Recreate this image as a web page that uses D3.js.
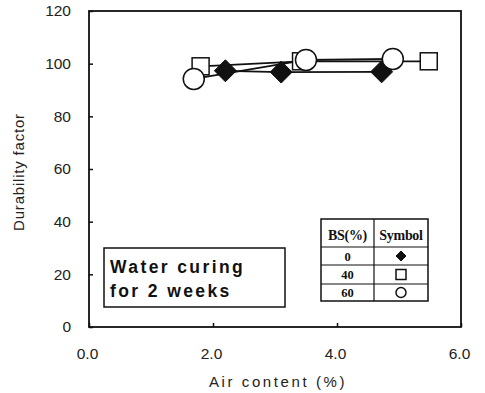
<!DOCTYPE html>
<html>
<head>
<meta charset="utf-8" />
<script src="https://d3js.org/d3.v7.min.js"></script>
<style>
  body { margin: 0; background: #fff; }
  svg { display: block; font-family: "Liberation Sans", Arial, sans-serif; }
</style>
</head>
<body>
<div id="visu"></div>
<script>
// chart size
const largeur = 485;
const hauteur = 393;
const marge = {haut: 11, droite: 24, bas: 66, gauche: 89};

// data
const niveauxBS = ["0", "40", "60"];
const air0 = [2.2, 3.1, 4.72];
const durab0 = [97.3, 96.8, 96.9];
const air40 = [1.8, 3.42, 5.48];
const durab40 = [99.0, 100.9, 100.9];
const air60 = [1.69, 3.5, 4.9];
const durab60 = [94.2, 101.4, 101.8];
const ticksX = [0, 2, 4, 6];
const ticksY = [0, 20, 40, 60, 80, 100, 120];

const series = [
  {bs: niveauxBS[0], symbole: "diamond", x: air0, y: durab0},
  {bs: niveauxBS[1], symbole: "square", x: air40, y: durab40},
  {bs: niveauxBS[2], symbole: "circle", x: air60, y: durab60}
];

const svg = d3.select('#visu').append('svg')
  .attr('width', largeur)
  .attr('height', hauteur);

const echelleX = d3.scaleLinear().domain([0, 6])
  .range([marge.gauche, largeur - marge.droite]);
const echelleY = d3.scaleLinear().domain([0, 120])
  .range([hauteur - marge.bas, marge.haut]);

// axes with inward ticks
const axeX = d3.axisBottom(echelleX).tickValues(ticksX)
  .tickFormat(d3.format('.1f')).tickSizeInner(-4).tickSizeOuter(0).tickPadding(21);
const axeY = d3.axisLeft(echelleY).tickValues(ticksY)
  .tickSizeInner(-4).tickSizeOuter(0).tickPadding(18);

const gx = svg.append('g')
  .attr('transform', `translate(0, ${hauteur - marge.bas})`)
  .call(axeX);
const gy = svg.append('g')
  .attr('transform', `translate(${marge.gauche}, 0)`)
  .call(axeY);

[gx, gy].forEach(g => {
  g.select('.domain').remove();
  g.selectAll('.tick line').attr('stroke', '#111').attr('stroke-width', 1.5);
  g.selectAll('.tick text').attr('font-size', 15.5).attr('fill', '#222')
    .attr('font-family', '"Liberation Sans", Arial, sans-serif');
});
gx.selectAll('.tick text').attr('dy', '0.71em').attr('dx', -2);

// frame
svg.append('rect')
  .attr('x', echelleX(0)).attr('y', echelleY(120))
  .attr('width', echelleX(6) - echelleX(0))
  .attr('height', echelleY(0) - echelleY(120))
  .attr('fill', 'none').attr('stroke', '#111').attr('stroke-width', 1.8);

// axis titles
svg.append('text')
  .attr('x', (echelleX(0) + echelleX(6)) / 2 + 3)
  .attr('y', 387)
  .attr('text-anchor', 'middle')
  .attr('font-size', 15)
  .attr('letter-spacing', 2.6)
  .attr('fill', '#222')
  .text('Air content (%)');

svg.append('text')
  .attr('transform', `translate(24, ${(echelleY(0) + echelleY(120)) / 2 + 3}) rotate(-90)`)
  .attr('text-anchor', 'middle')
  .attr('font-size', 15)
  .attr('letter-spacing', 0.8)
  .attr('fill', '#222')
  .text('Durability factor');

// lines
const ligneGen = d3.line()
  .x(d => echelleX(d[0]))
  .y(d => echelleY(d[1]));

series.forEach(s => {
  svg.append('path')
    .datum(d3.zip(s.x, s.y))
    .attr('d', ligneGen)
    .attr('fill', 'none')
    .attr('stroke', '#111')
    .attr('stroke-width', 1.8);
});

// symbols
function dessineSymbole(g, type, cx, cy, taille) {
  if (type === 'diamond') {
    const h = taille * 0.5;
    g.append('path')
      .attr('d', `M${cx},${cy - h}L${cx + h},${cy}L${cx},${cy + h}L${cx - h},${cy}Z`)
      .attr('fill', '#111').attr('stroke', '#111').attr('stroke-width', 1);
  } else if (type === 'square') {
    const h = taille * 0.5;
    g.append('rect')
      .attr('x', cx - h).attr('y', cy - h).attr('width', 2 * h).attr('height', 2 * h)
      .attr('fill', '#fff').attr('stroke', '#111').attr('stroke-width', 1.5);
  } else {
    g.append('circle')
      .attr('cx', cx).attr('cy', cy).attr('r', taille * 0.5)
      .attr('fill', '#fff').attr('stroke', '#111').attr('stroke-width', 1.5);
  }
}

const taillesGraphe = {diamond: 22, square: 17, circle: 21};
const gPoints = svg.append('g');
series.forEach(s => {
  s.x.forEach((v, i) => {
    dessineSymbole(gPoints, s.symbole, echelleX(v), echelleY(s.y[i]), taillesGraphe[s.symbole]);
  });
});

// curing text box
svg.append('rect')
  .attr('x', 104).attr('y', 248).attr('width', 181).attr('height', 59)
  .attr('fill', '#fff').attr('stroke', '#111').attr('stroke-width', 1.5);
[['Water curing', 273], ['for 2 weeks', 297]].forEach(([txt, y]) => {
  svg.append('text')
    .attr('x', 110).attr('y', y)
    .attr('font-size', 17.5).attr('font-weight', 'bold').attr('letter-spacing', 2.4)
    .attr('fill', '#111')
    .text(txt);
});

// legend table
const tabX = 321, tabY = 219, colSep = 374, tabRight = 428;
const rangees = [tabY, 247, 265, 284, 301];
const gTab = svg.append('g');
gTab.append('rect')
  .attr('x', tabX).attr('y', tabY).attr('width', tabRight - tabX).attr('height', rangees[4] - tabY)
  .attr('fill', '#fff').attr('stroke', '#111').attr('stroke-width', 1.5);
gTab.append('line')
  .attr('x1', colSep).attr('x2', colSep).attr('y1', tabY).attr('y2', rangees[4])
  .attr('stroke', '#111').attr('stroke-width', 1.2);
rangees.slice(1, 4).forEach(y => {
  gTab.append('line')
    .attr('x1', tabX).attr('x2', tabRight).attr('y1', y).attr('y2', y)
    .attr('stroke', '#111').attr('stroke-width', 1.2);
});
gTab.append('text')
  .attr('x', (tabX + colSep) / 2).attr('y', 240)
  .attr('text-anchor', 'middle').attr('font-family', '"Liberation Serif", serif')
  .attr('font-weight', 'bold').attr('font-size', 14).attr('letter-spacing', -0.3).attr('fill', '#111')
  .text('BS(%)');
gTab.append('text')
  .attr('x', (colSep + tabRight) / 2).attr('y', 240)
  .attr('text-anchor', 'middle').attr('font-family', '"Liberation Serif", serif')
  .attr('font-weight', 'bold').attr('font-size', 14).attr('letter-spacing', -0.3).attr('fill', '#111')
  .text('Symbol');
const taillesLegende = {diamond: 10, square: 10, circle: 10};
series.forEach((s, i) => {
  const yc = (rangees[i + 1] + rangees[i + 2]) / 2;
  gTab.append('text')
    .attr('x', (tabX + colSep) / 2).attr('y', yc + 4.5)
    .attr('text-anchor', 'middle').attr('font-family', '"Liberation Serif", serif')
    .attr('font-weight', 'bold').attr('font-size', 12.5).attr('fill', '#111')
    .text(s.bs);
  dessineSymbole(gTab, s.symbole, (colSep + tabRight) / 2, yc, taillesLegende[s.symbole]);
});
</script>
</body>
</html>
